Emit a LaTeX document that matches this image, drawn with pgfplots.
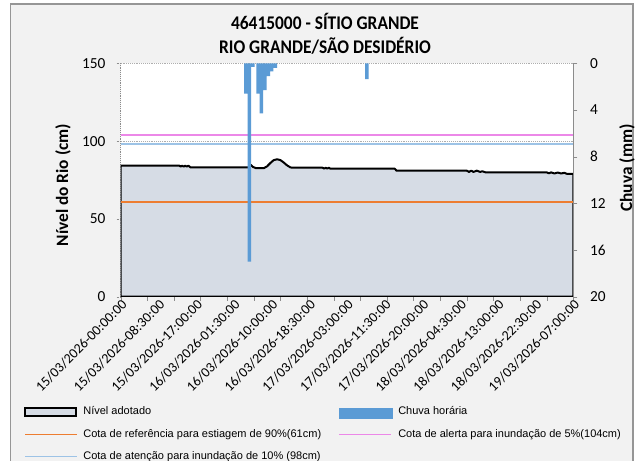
\documentclass[border=0pt]{standalone}
\usepackage{fontspec}
\setmainfont{Carlito}
\newfontfamily\legfont{Liberation Sans}
\newfontfamily\titlefont[FakeStretch=0.9]{Carlito}
\usepackage{pgfplots}
\pgfplotsset{compat=1.18}
\definecolor{bgc}{RGB}{242,242,242}
\definecolor{framec}{RGB}{150,150,150}
\definecolor{areac}{RGB}{214,220,229}
\definecolor{barc}{RGB}{91,155,213}
\definecolor{orangec}{RGB}{237,125,49}
\definecolor{pinkc}{RGB}{236,136,232}
\definecolor{lbluec}{RGB}{157,195,230}
\definecolor{axc}{RGB}{140,140,140}

\pgfplotstableread{
x y
0 84.2
26.5 84.2
27 83.6
27.7 84.2
28.4 83.6
29.1 84.2
29.8 83.6
30.5 84.2
31.5 83.1
58 83.1
58.8 84.6
59.6 83.4
61 82.6
64.5 82.6
66 83.8
67.5 86
69 87.8
70.5 88.3
72 87.8
73.5 86.2
75 84.4
76.5 83.1
77.5 82.9
91 82.9
91.7 82.3
92.4 82.9
93.1 82.3
93.8 82.9
94.5 82.3
123.5 82.3
124.3 81.0
156 81.0
157 80.2
158 81.0
159 80.2
160.5 81.0
162 80.2
163 80.6
164.5 79.9
192 79.9
193 79.3
194 79.9
195.5 79.2
197 79.8
198.5 79.2
200 79.6
201 79.0
204 79.0
}\nivel

\pgfplotstableread{
x y
56.4 2.6
58.0 17.0
59.6 0.3
62.0 2.6
63.4 4.3
65.0 2.3
66.5 1.1
68.0 0.7
69.7 0.4
111.0 1.35
}\chuva

\begin{document}
\begin{tikzpicture}
\path[use as bounding box] (0,0) rectangle (483pt,345.75pt);
\clip (0,0) rectangle (483pt,345.75pt);
\fill[white] (0,0) rectangle (483pt,345.75pt);
\filldraw[fill=bgc, draw=framec, line width=0.8pt] (7.875pt,-4pt) rectangle (474.75pt,342.75pt);

\begin{axis}[
  at={(90.525pt,123.225pt)}, anchor=south west,
  scale only axis, width=339.45pt, height=175.05pt,
  xmin=0, xmax=204, ymin=0, ymax=150,
  axis background/.style={fill=white},
  axis x line*=bottom, axis y line*=left,
  x axis line style={axc,-}, y axis line style={axc,densely dotted,-},
  xtick={0,12,...,204}, xticklabels={},
  extra x ticks={0,17,...,204},
  extra x tick labels={15/03/2026-00:00:00,15/03/2026-08:30:00,15/03/2026-17:00:00,16/03/2026-01:30:00,16/03/2026-10:00:00,16/03/2026-18:30:00,17/03/2026-03:00:00,17/03/2026-11:30:00,17/03/2026-20:00:00,18/03/2026-04:30:00,18/03/2026-13:00:00,18/03/2026-22:30:00,19/03/2026-07:00:00},
  extra x tick style={major tick length=0pt},
  x tick label style={rotate=45, anchor=north east, inner sep=1pt, font=\fontsize{10.5}{12}\selectfont},
  ytick={0,50,100,150},
  tick align=outside, major tick length=3pt,
  xtick style={axc}, ytick style={axc, densely dotted},
  ymajorgrids, grid style={axc!70, densely dotted},
  yticklabel style={font=\fontsize{11.5}{13}\selectfont, xshift=-5pt},
  /pgf/number format/assume math mode=true,
  legend columns=2,
  legend cell align=left,
  legend style={at={(axis description cs:-0.2137,-0.468)}, anchor=north west,
    draw=none, fill=none, inner sep=0pt,
    font=\legfont\fontsize{8.25}{10}\selectfont,
    nodes={inner sep=0pt, text height=6.5pt, text depth=2pt},
    row sep=8pt,
    /tikz/every odd column/.append style={column sep=4pt},
    /tikz/every even column/.append style={column sep=13pt}},
]
\addplot[draw=black, line width=1.5pt, fill=areac, line join=round, forget plot] table[x=x,y=y]{\nivel} \closedcycle;
\addplot[orangec, line width=1.2pt, forget plot] coordinates {(0,61) (204,61)};
\addplot[pinkc, line width=1.2pt, forget plot] coordinates {(0,104) (204,104)};
\addplot[lbluec, line width=1.2pt, forget plot] coordinates {(0,98) (204,98)};

\addlegendimage{legend image code/.code={\draw[black, line width=1.5pt, fill=areac] (0pt,-2.8pt) rectangle (38pt,3.2pt);}}
\addlegendentry{Nível adotado}
\addlegendimage{legend image code/.code={\fill[barc] (0pt,-4.5pt) rectangle (40pt,3pt);}}
\addlegendentry{Chuva horária}
\addlegendimage{legend image code/.code={\draw[orangec, line width=1.2pt] (0pt,0pt) -- (39pt,0pt);}}
\addlegendentry{Cota de referência para estiagem de 90\%(61cm)}
\addlegendimage{legend image code/.code={\draw[pinkc, line width=1.2pt] (0pt,0pt) -- (39pt,0pt);}}
\addlegendentry{Cota de alerta para inundação de 5\%(104cm)}
\addlegendimage{legend image code/.code={\draw[lbluec, line width=1.2pt] (0pt,0pt) -- (39pt,0pt);}}
\addlegendentry{Cota de atenção para inundação de 10\% (98cm)}
\end{axis}

\begin{axis}[
  at={(90.525pt,123.225pt)}, anchor=south west,
  scale only axis, width=339.45pt, height=175.05pt,
  xmin=0, xmax=204, ymin=0, ymax=20, y dir=reverse,
  axis x line=none, axis y line*=right,
  y axis line style={axc,-},
  ytick={0,4,...,20},
  tick align=outside, major tick length=3pt, ytick style={axc},
  yticklabel style={font=\fontsize{11.5}{13}\selectfont, xshift=6pt},
  /pgf/number format/assume math mode=true,
  ybar, bar width=1.6,
]
\addplot[fill=barc, draw=none] table[x=x,y=y]{\chuva};
\end{axis}

\node[font=\titlefont\bfseries\fontsize{14.5}{16}\selectfont] at (243.75pt,330pt) {46415000 - SÍTIO GRANDE};
\node[font=\titlefont\bfseries\fontsize{14.5}{16}\selectfont] at (243.75pt,311.25pt) {RIO GRANDE/SÃO DESIDÉRIO};
\node[font=\bfseries\fontsize{13}{15}\selectfont, rotate=90] at (47.25pt,207pt) {Nível do Rio (cm)};
\node[font=\bfseries\fontsize{13}{15}\selectfont, rotate=90] at (470.25pt,219.75pt) {Chuva (mm)};
\end{tikzpicture}
\end{document}
